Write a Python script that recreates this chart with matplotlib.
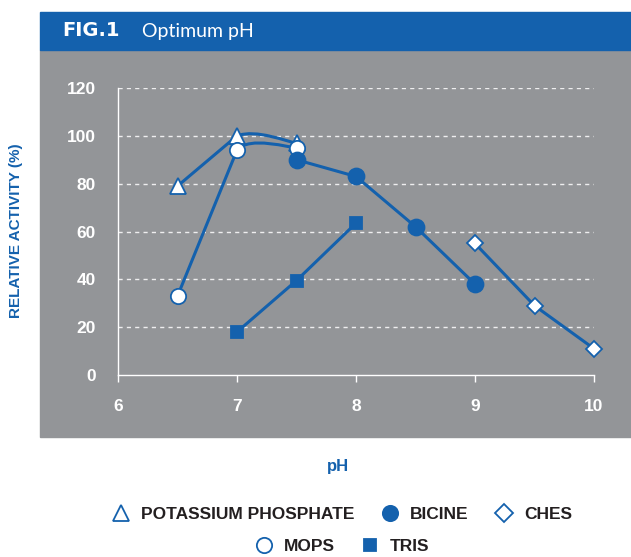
import numpy as np
import matplotlib.pyplot as plt
from matplotlib.path import Path
from matplotlib.patches import PathPatch, Rectangle
from matplotlib.lines import Line2D

# data
ph_kphos = [6.5, 7.0, 7.5]
act_kphos = [79, 100, 97]
ph_mops = [6.5, 7.0, 7.5]
act_mops = [33, 94, 95]
ph_bicine = [7.5, 8.0, 8.5, 9.0]
act_bicine = [90, 83, 62, 38]
ph_ches = [9.0, 9.5, 10.0]
act_ches = [55, 29, 11]
ph_tris = [7.0, 7.5, 8.0]
act_tris = [18, 39.5, 63.5]

xticks = [6, 7, 8, 9, 10]
yticks = [0, 20, 40, 60, 80, 100, 120]

blue = '#1461ad'
gray = '#939598'
dark = '#231f20'


def line_path(xs, ys, curved=(), t=1/6.):
    # straight segments, except the ones listed in curved (bezier)
    p = np.column_stack([xs, ys]).astype(float)
    n = len(p)
    verts = [p[0]]
    codes = [Path.MOVETO]
    for i in range(n - 1):
        if i in curved:
            p0 = p[i - 1] if i > 0 else p[i]
            c1 = p[i] + (p[i + 1] - p0) * t
            c2 = p[i + 1] - (p[i + 1] - p[i]) * t
            verts += [c1, c2, p[i + 1]]
            codes += [Path.CURVE4] * 3
        else:
            verts.append(p[i + 1])
            codes.append(Path.LINETO)
    return Path(verts, codes)


fig = plt.figure(figsize=(6.31, 5.57), dpi=100)

# gray panel and blue title bar
fig.patches.append(Rectangle((40/631, 1-437/557), 591/631, 387/557,
                             transform=fig.transFigure, color=gray, zorder=-2))
fig.patches.append(Rectangle((40/631, 1-50/557), 591/631, 38/557,
                             transform=fig.transFigure, color=blue, zorder=-2))
fig.text(62/631, 1-31/557, 'FIG.1', color='white', fontsize=14, fontweight='bold',
         family='DejaVu Sans', va='center', ha='left')
fig.text(142/631, 1-31/557, 'Optimum pH', color='white', fontsize=14,
         family='Lato', va='center', ha='left')

ax = fig.add_axes([118/631, 1-375/557, 476/631, 287/557])
ax.set_facecolor('none')
ax.set_xlim(6, 10)
ax.set_ylim(0, 120)

for s in ['top', 'right']:
    ax.spines[s].set_visible(False)
for s in ['left', 'bottom']:
    ax.spines[s].set_color('white')
    ax.spines[s].set_linewidth(1)

ax.set_xticks(xticks)
ax.set_yticks(yticks)
ax.tick_params(axis='x', colors='white', length=5, width=1, pad=12, labelsize=12.5)
ax.tick_params(axis='y', length=0, pad=16, labelsize=12.5, colors='white')
for lab in ax.get_xticklabels() + ax.get_yticklabels():
    lab.set_fontweight('bold')
    lab.set_family('Liberation Sans')

for y in yticks[1:]:
    ax.axhline(y, color='white', lw=1, ls=(0, (3, 3)), alpha=0.85, zorder=1)

series = [
    (ph_kphos, act_kphos, (1,), 1/6., '^', 'white', 11),
    (ph_mops, act_mops, (1,), 0.1, 'o', 'white', 11),
    (ph_bicine, act_bicine, (), 0, 'o', blue, 11.5),
    (ph_ches, act_ches, (), 0, 'D', 'white', 8.5),
    (ph_tris, act_tris, (), 0, 's', blue, 8.5),
]
for xs, ys, curved, t, m, fc, ms in series:
    ax.add_patch(PathPatch(line_path(xs, ys, curved, t), fill=False, edgecolor=blue,
                           lw=2.2, zorder=2, clip_on=False, capstyle='round',
                           joinstyle='round'))
    ax.plot(xs, ys, ls='none', marker=m, ms=ms, mfc=fc, mec=blue, mew=1.3,
            zorder=3, clip_on=False)

fig.text(16/631, 1-231/557, 'RELATIVE ACTIVITY (%)', rotation=90, color=blue,
         fontsize=11, fontweight='bold', family='Liberation Sans', ha='center', va='center')
fig.text(338/631, 1-466/557, 'pH', color=blue, fontsize=12, fontweight='bold',
         family='Liberation Sans', ha='center', va='center')


def handle(m, fc, ms):
    return Line2D([], [], ls='none', marker=m, ms=ms, mfc=fc, mec=blue, mew=1.3)


leg_kw = dict(frameon=False, handletextpad=0.4, columnspacing=1.3, handlelength=1.5,
              prop={'family': 'Liberation Sans', 'weight': 'bold', 'size': 12.5})
leg1 = fig.legend([handle('^', 'none', 11), handle('o', blue, 11), handle('D', 'none', 9)],
                  ['POTASSIUM PHOSPHATE', 'BICINE', 'CHES'], ncol=3,
                  loc='center', bbox_to_anchor=(340/631, 1-514/557), **leg_kw)
leg2 = fig.legend([handle('o', 'none', 11), handle('s', blue, 8.5)],
                  ['MOPS', 'TRIS'], ncol=2,
                  loc='center', bbox_to_anchor=(340/631, 1-546/557), **leg_kw)
for leg in (leg1, leg2):
    for t in leg.get_texts():
        t.set_color(dark)

fig.savefig('out.png', dpi=100, facecolor='white')
